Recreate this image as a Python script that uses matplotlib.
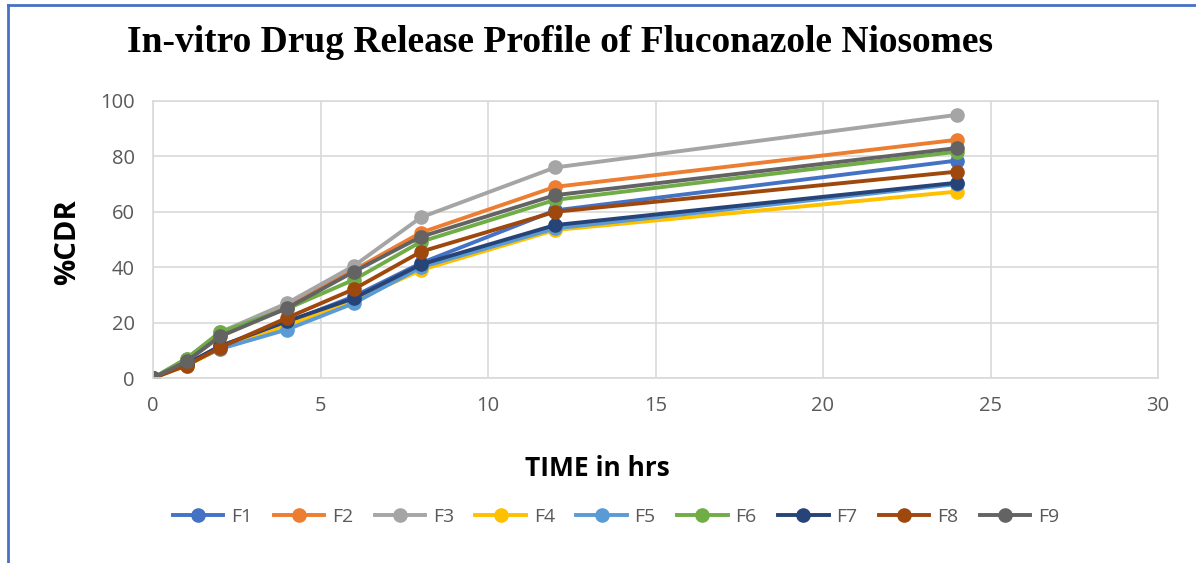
import numpy as np
import matplotlib.pyplot as plt
from matplotlib.lines import Line2D

time = [0, 1, 2, 4, 6, 8, 12, 24]
labels = ['F1', 'F2', 'F3', 'F4', 'F5', 'F6', 'F7', 'F8', 'F9']
F1 = [0, 5.0, 11.5, 20.0, 29.5, 41.5, 60.5, 78.5]
F2 = [0, 6.0, 15.0, 26.0, 39.0, 52.5, 69.0, 86.0]
F3 = [0, 7.0, 16.5, 27.0, 40.5, 58.0, 76.0, 95.0]
F4 = [0, 4.5, 10.5, 19.0, 28.0, 39.0, 53.4, 67.3]
F5 = [0, 5.0, 10.5, 17.5, 27.0, 40.0, 54.0, 70.0]
F6 = [0, 7.0, 16.5, 25.0, 35.5, 49.2, 64.3, 81.7]
F7 = [0, 5.0, 11.5, 20.5, 28.8, 41.0, 55.2, 70.5]
F8 = [0, 4.5, 11.0, 21.7, 32.1, 45.6, 60.0, 74.5]
F9 = [0, 6.0, 15.0, 25.2, 38.4, 51.0, 66.0, 83.0]
series = [F1, F2, F3, F4, F5, F6, F7, F8, F9]
colors = ['#4472C4', '#ED7D31', '#A5A5A5', '#FFC000', '#5B9BD5',
          '#70AD47', '#264478', '#9E480E', '#636363']

fig = plt.figure(figsize=(11.96, 5.63), dpi=100)
ax = fig.add_axes([153/1196, 1 - 378/563, (1158-153)/1196, (378-101)/563])

for name, vals, c in zip(labels, series, colors):
    ax.plot(time, vals, color=c, lw=2.8, marker='o', ms=9.5, label=name)

ax.set_xlim(0, 30)
ax.set_ylim(0, 100)
ax.set_xticks([0, 5, 10, 15, 20, 25, 30])
ax.set_yticks([0, 20, 40, 60, 80, 100])
ax.grid(color='#D9D9D9', lw=1.2)
ax.set_axisbelow(True)
for s in ax.spines.values():
    s.set_color('#D9D9D9')
    s.set_linewidth(1.2)
ax.tick_params(length=0, labelsize=14.5, labelcolor='#595959', pad=13)
for t in ax.get_xticklabels() + ax.get_yticklabels():
    t.set_fontfamily('Open Sans')

fig.text(560/1196, 1 - 43/563, 'In-vitro Drug Release Profile of Fluconazole Niosomes',
         ha='center', va='center', fontsize=27, fontweight='bold', family='Liberation Serif')
fig.text(597/1196, 1 - 468/563, 'TIME in hrs', ha='center', va='center',
         fontsize=19, fontweight='bold', family='Open Sans')
fig.text(68/1196, 1 - 242/563, '%CDR', ha='center', va='center', rotation=90,
         fontsize=21, fontweight='bold', family='Open Sans')

leg = fig.legend(loc='center', bbox_to_anchor=(616/1196, 1 - 517/563), ncol=9,
                 frameon=False, fontsize=14, handlelength=2.6, columnspacing=1.1,
                 handletextpad=0.4, markerscale=1.0)
for t in leg.get_texts():
    t.set_color('#595959')
    t.set_fontfamily('Open Sans')

fig.add_artist(Line2D([8/1196, 8/1196], [0, 1 - 5/563], color='#4472C4', lw=2,
                      transform=fig.transFigure))
fig.add_artist(Line2D([8/1196, 1], [1 - 5/563, 1 - 5/563], color='#4472C4', lw=2,
                      transform=fig.transFigure))

fig.savefig('out.png', dpi=100)
